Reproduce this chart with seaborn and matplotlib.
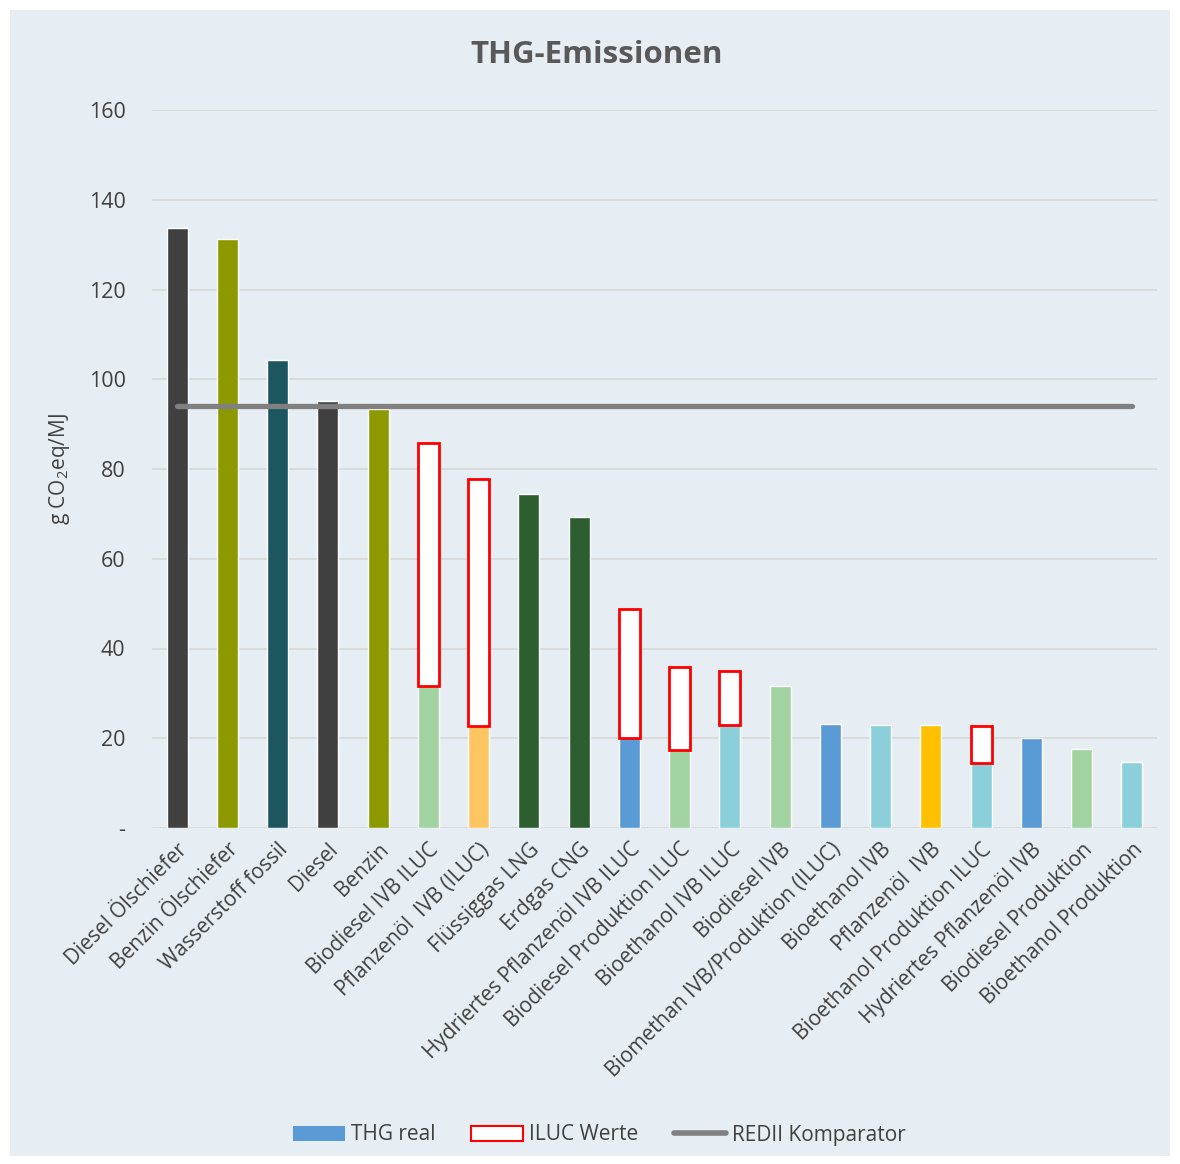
import numpy as np
import pandas as pd
import matplotlib.pyplot as plt
import seaborn as sns
from matplotlib.patches import Patch, Rectangle
from matplotlib.lines import Line2D

# Daten
categories = [
    'Diesel Ölschiefer', 'Benzin Ölschiefer', 'Wasserstoff fossil', 'Diesel', 'Benzin',
    'Biodiesel IVB ILUC', 'Pflanzenöl  IVB (ILUC)', 'Flüssiggas LNG', 'Erdgas CNG',
    'Hydriertes Pflanzenöl IVB ILUC', 'Biodiesel Produktion ILUC', 'Bioethanol IVB ILUC',
    'Biodiesel IVB', 'Biomethan IVB/Produktion (ILUC)', 'Bioethanol IVB', 'Pflanzenöl  IVB',
    'Bioethanol Produktion ILUC', 'Hydriertes Pflanzenöl IVB', 'Biodiesel Produktion',
    'Bioethanol Produktion',
]
thg_real = [133.7, 131.3, 104.3, 95.2, 93.4, 31.6, 22.7, 74.4, 69.3, 20.1,
            17.4, 23.0, 31.6, 23.2, 23.0, 23.0, 14.5, 20.1, 17.6, 14.7]
iluc_top = [np.nan, np.nan, np.nan, np.nan, np.nan, 85.8, 77.8, np.nan, np.nan, 48.8,
            35.9, 35.0, np.nan, np.nan, np.nan, np.nan, 22.7, np.nan, np.nan, np.nan]
redii = [94.0] * len(categories)
bar_colors = ['#404040', '#8C9A00', '#1E5660', '#404040', '#8C9A00',
              '#A1D3A0', '#FFC561', '#2D5E2F', '#2D5E2F', '#5B9BD5',
              '#A1D3A0', '#8ACFD9', '#A1D3A0', '#5B9BD5', '#8ACFD9',
              '#FFC000', '#8ACFD9', '#5B9BD5', '#A1D3A0', '#8ACFD9']

bg = '#E6EEF4'
text_col = '#404040'

sns.set_style('white')
plt.rcParams['font.family'] = ['Open Sans', 'DejaVu Sans']
plt.rcParams['mathtext.fontset'] = 'custom'
plt.rcParams['mathtext.rm'] = 'Open Sans'

df = pd.DataFrame({'Kategorie': categories, 'THG': thg_real})

fig = plt.figure(figsize=(11.8, 11.64), dpi=100, facecolor='white')
fig.patches.append(Rectangle((10 / 1180, 8 / 1164), 1160 / 1180, 1146 / 1164,
                             transform=fig.transFigure, facecolor=bg,
                             edgecolor='none', zorder=-5))
ax = fig.add_axes([152 / 1180, 1 - 828 / 1164, 1005 / 1180, 718 / 1164])
ax.set_facecolor(bg)

sns.barplot(data=df, x='Kategorie', y='THG', hue='Kategorie', palette=bar_colors,
            legend=False, width=0.42, saturation=1, ax=ax, zorder=2)

# ILUC-Anteil als rot umrandete Box oben drauf
x = np.arange(len(categories))
iluc = np.array(iluc_top) - np.array(thg_real)
mask = ~np.isnan(iluc)
ax.bar(x[mask], iluc[mask], bottom=np.array(thg_real)[mask], width=0.42,
       facecolor='white', edgecolor='#FF0000', linewidth=2, zorder=3)

sns.lineplot(x=x, y=redii, color='#808080', linewidth=3.8, ax=ax, zorder=4,
             solid_capstyle='round')

ax.set_xlim(-0.5, len(categories) - 0.5)
ax.set_ylim(0, 160)
ax.set_yticks(range(0, 161, 20))
ax.set_yticklabels(['-'] + [str(v) for v in range(20, 161, 20)], fontsize=15.5, color=text_col)
ax.yaxis.grid(True, color='#D9D9D9', linewidth=1.3, zorder=0)
ax.set_axisbelow(True)
for s in ax.spines.values():
    s.set_visible(False)
ax.axhline(0, color='#D9D9D9', linewidth=1.3, zorder=1)
ax.tick_params(axis='y', length=0, pad=19)
ax.set_xticks(x)
ax.set_xticklabels(categories, rotation=45, ha='right', rotation_mode='anchor',
                   fontsize=15, color=text_col)
ax.tick_params(axis='x', length=0, pad=8)
ax.set_xlabel('')
ax.set_ylabel('g CO$_\\mathregular{2}$eq/MJ', fontsize=15, color=text_col, labelpad=12)

fig.text(0.506, 1 - 55 / 1164, 'THG-Emissionen', ha='center', va='center',
         fontsize=22.5, fontweight='bold', color='#595959')

handles = [
    Patch(facecolor='#5B9BD5', edgecolor='none'),
    Patch(facecolor='white', edgecolor='#FF0000', linewidth=1.5),
    Line2D([0], [0], color='#808080', linewidth=4, solid_capstyle='round'),
]
fig.legend(handles, ['THG real', 'ILUC Werte', 'REDII Komparator'],
           loc='center', bbox_to_anchor=(0.508, 1 - 1135 / 1164), ncol=3,
           frameon=False, fontsize=15, labelcolor=text_col, handlelength=2.5,
           handletextpad=0.3, columnspacing=1.7, handleheight=0.7)

plt.savefig('out.png', dpi=100, facecolor='white')
plt.close()
